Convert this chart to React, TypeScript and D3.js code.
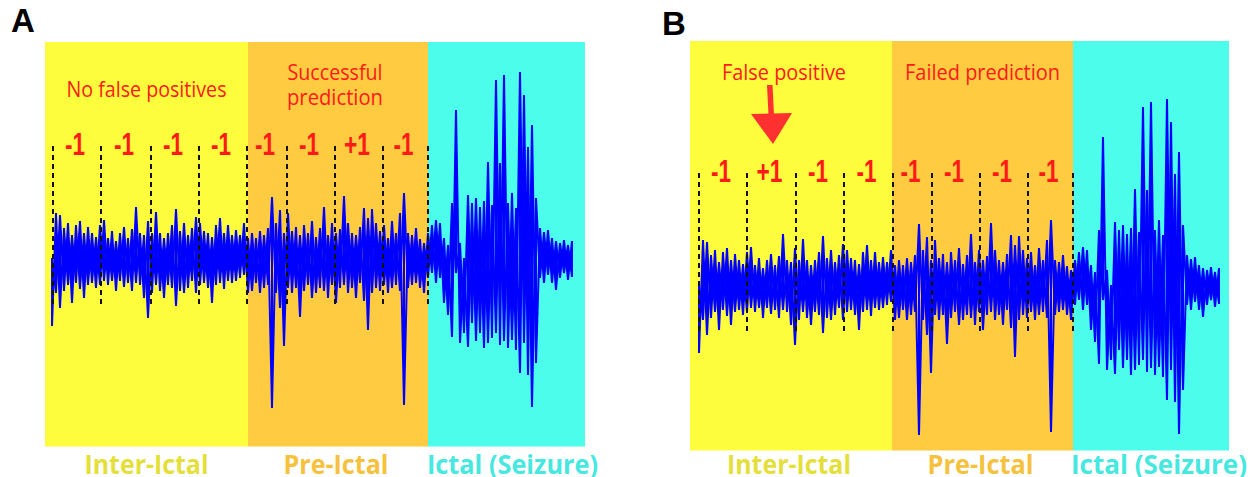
import * as d3 from 'd3';

const W = 1251;
const H = 477;

// EEG trace, min/max per time column (offsets in µV-ish units, + is up)
const eegHi = [
  5, 50, 48, 35, 40, 28, 38, 42, 30, 36, 30, 26, 38, 43, 25, 32, 22, 30, 36, 25,
  34, 56, 30, 28, 42, 30, 51, 30, 25, 30, 38, 54, 32, 40, 28, 35, 46, 40, 32, 30,
  26, 38, 45, 30, 38, 28, 33, 28, 40, 25, 30, 25, 32, 28, 35, 66, 40, 53, 30, 50,
  32, 36, 28, 38, 30, 42, 26, 35, 56, 28, 40, 30, 34, 67, 40, 30, 28, 36, 55, 45,
  54, 40, 32, 38, 25, 42, 30, 50, 70, 30, 28, 35, 24, 20, 30, 38, 43, 40, 25, 18,
  60, 153, 20, 5, 68, 60, 65, 56, 62, 101, 58, 183, 100, 188, 60, 70, 55, 191, 168, 116,
  138, 65, 35, 31, 33, 25, 22, 20, 23, 18, 22,
];
const eegLo = [
  -63, -30, -45, -28, -22, -40, -20, -26, -35, -22, -20, -25, -22, -18, -22, -18, -28, -18, -24, -20,
  -28, -20, -22, -35, -55, -30, -22, -28, -35, -22, -25, -43, -28, -30, -25, -18, -30, -22, -20, -25,
  -40, -22, -20, -26, -18, -20, -18, -15, -12, -30, -28, -20, -30, -25, -22, -145, -30, -45, -83, -25,
  -30, -25, -54, -28, -22, -35, -30, -25, -28, -35, -22, -40, -25, -22, -30, -25, -35, -20, -38, -67,
  -30, -25, -28, -22, -30, -25, -22, -28, -142, -25, -22, -20, -25, -30, -15, -10, -20, -15, -40, -52,
  -74, -10, -80, -70, -84, -60, -78, -70, -85, -80, -75, -70, -82, -78, -85, -77, -87, -110, -80, -112,
  -144, -100, -15, -20, -12, -20, -27, -15, -10, -17, -14,
];

// phase boundaries and prediction windows, in the same time units
const phaseNames = ['Inter-Ictal', 'Pre-Ictal', 'Ictal (Seizure)'];
const phaseEdgesA = [-1.75, 49, 94, 133.25];
const phaseEdgesB = [-2.25, 48.25, 93.5, 132.5];
const windowEdgesA = [0.25, 12.25, 24.75, 36.75, 48.75, 58.75, 70.75, 82.75, 94];
const windowEdgesB = [0, 12, 24.25, 36.25, 48.5, 58.25, 70.25, 82.25, 93.5];
const scoresA = ['-1', '-1', '-1', '-1', '-1', '-1', '+1', '-1'];
const scoresB = ['-1', '+1', '-1', '-1', '-1', '-1', '-1', '-1'];

const phaseFill = ['#fdfd3d', '#fecb41', '#4cfdec'];
const phaseText = ['#e4df3b', '#f6c23d', '#46e8df'];
const RED = '#ff1a1a';

const panels = [
  {
    letter: 'A', letterX: 11, letterY: 32,
    x0: 52, top: 42, bottom: 446.5, base: 263,
    phases: phaseEdgesA, windows: windowEdgesA, scores: scoresA,
    scoreY: 155, dashTop: 146, dashBottom: 307,
    labelW: [124, 105, 171], labelDx: [0, -2, 6],
    notes: [
      { lines: ['No false positives'], phase: 0, dx: 0, y: 97, w: [160] },
      { lines: ['Successful', 'prediction'], phase: 1, dx: -3, y: 80, w: [95, 96] },
    ],
    arrow: false,
  },
  {
    letter: 'B', letterX: 662, letterY: 35,
    x0: 699, top: 41, bottom: 450.5, base: 290,
    phases: phaseEdgesB, windows: windowEdgesB, scores: scoresB,
    scoreY: 182, dashTop: 173, dashBottom: 333,
    labelW: [124, 106, 176], labelDx: [-2, -2, 8],
    notes: [
      { lines: ['False positive'], phase: 0, dx: -7, y: 80, w: [124] },
      { lines: ['Failed prediction'], phase: 1, dx: 0, y: 80, w: [155] },
    ],
    arrow: true,
  },
];

function Panel({ p }) {
  const x = d3.scaleLinear().domain([0, 130]).range([p.x0, p.x0 + 520]);
  const y = d3.scaleLinear().domain([-200, 200]).range([p.base + 200, p.base - 200]);

  // min/max decimated trace: a vertical stroke per column, joined both ways
  const a = [];
  const b = [];
  eegHi.forEach((hi, i) => {
    a.push([x(i), y(hi)], [x(i), y(eegLo[i])]);
    b.push([x(i), y(eegLo[i])], [x(i), y(hi)]);
  });
  const line = d3.line();

  const phaseCenter = (k) => (x(p.phases[k]) + x(p.phases[k + 1])) / 2;

  return (
    <g>
      <text x={p.letterX} y={p.letterY} fontFamily="Liberation Sans, Arial, sans-serif"
        fontWeight="bold" fontSize={33} fill="#000">{p.letter}</text>
      {phaseNames.map((n, k) => (
        <rect key={n} x={x(p.phases[k])} y={p.top}
          width={x(p.phases[k + 1]) - x(p.phases[k])} height={p.bottom - p.top}
          fill={phaseFill[k]} />
      ))}
      <path d={line(a)} fill="none" stroke="#0000ff" strokeWidth={2} />
      <path d={line(b)} fill="none" stroke="#0000ff" strokeWidth={2} />
      {p.windows.map((t, i) => (
        <line key={i} x1={x(t)} x2={x(t)} y1={p.dashTop} y2={p.dashBottom}
          stroke="#111" strokeWidth={2} strokeDasharray="5,4" />
      ))}
      {p.scores.map((s, i) => (
        <text key={i} x={(x(p.windows[i]) + x(p.windows[i + 1])) / 2 - 2} y={p.scoreY}
          textAnchor="middle" fontFamily="Liberation Sans, Arial, sans-serif" fontWeight="bold"
          fontSize={31} fill={RED} textLength={s === '+1' ? 26 : 20}
          lengthAdjust="spacingAndGlyphs">{s}</text>
      ))}
      {p.notes.map((nt, j) =>
        nt.lines.map((ln, li) => (
          <text key={j + '-' + li} x={phaseCenter(nt.phase) + nt.dx} y={nt.y + li * 25}
            textAnchor="middle" fontFamily="Open Sans, sans-serif" fontSize={21} fill={RED}
            textLength={nt.w[li]} lengthAdjust="spacingAndGlyphs">{ln}</text>
        ))
      )}
      {p.arrow && (
        <g fill="#ff3030" stroke="none">
          <polygon points="767,85 772.5,85 774,115 768.5,115" />
          <polygon points="751,114 792,113 773,144" />
        </g>
      )}
      {phaseNames.map((n, k) => (
        <text key={n} x={phaseCenter(k) + p.labelDx[k]} y={474} textAnchor="middle"
          fontFamily="Open Sans, sans-serif" fontWeight="bold" fontSize={27}
          fill={phaseText[k]} textLength={p.labelW[k]} lengthAdjust="spacingAndGlyphs">{n}</text>
      ))}
    </g>
  );
}

export default function App() {
  return (
    <svg width={W} height={H} viewBox={`0 0 ${W} ${H}`}
      style={{ position: 'absolute', left: 0, top: 0, background: '#fff' }}>
      <rect width={W} height={H} fill="#fff" />
      {panels.map((p) => <Panel key={p.letter} p={p} />)}
    </svg>
  );
}
